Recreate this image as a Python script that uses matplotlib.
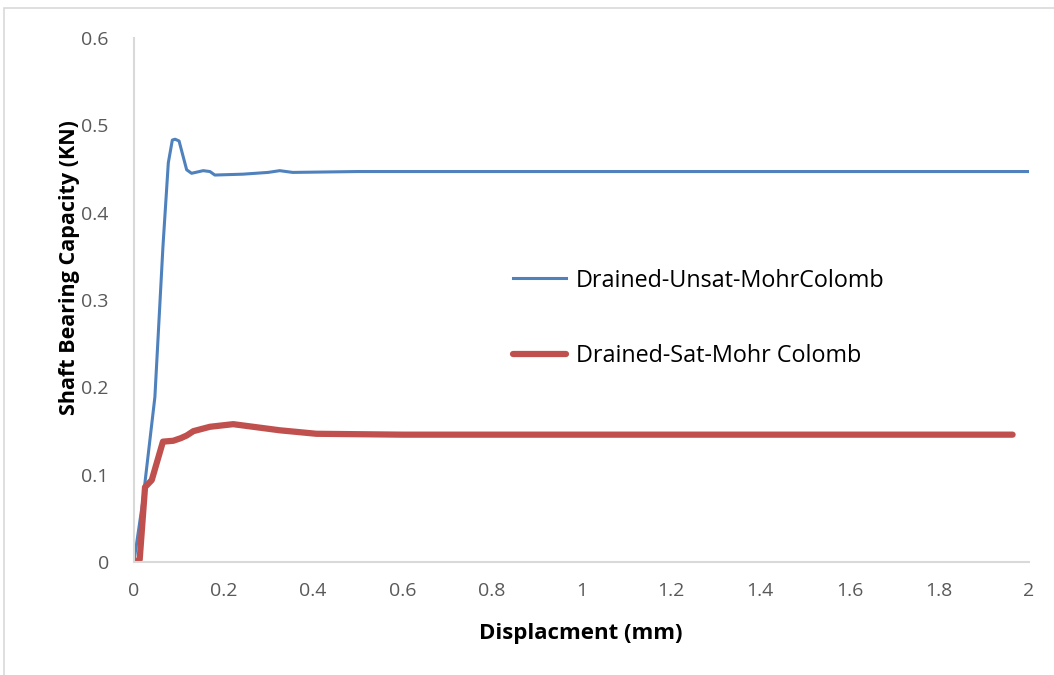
import matplotlib.pyplot as plt
from matplotlib.patches import Rectangle

plt.rcParams['font.family'] = ['Open Sans', 'DejaVu Sans']

# Drained-Unsat-MohrColomb
unsat_x = [0.0, 0.02, 0.047, 0.065, 0.077, 0.086, 0.092, 0.101, 0.118, 0.129, 0.155, 0.17,
           0.181, 0.244, 0.3, 0.326, 0.355, 0.5, 0.8, 1.0, 1.2, 1.5, 1.8, 2.0]
unsat_y = [0.0, 0.07, 0.189, 0.361, 0.457, 0.483, 0.484, 0.482, 0.449, 0.445, 0.448, 0.447,
           0.443, 0.444, 0.446, 0.448, 0.446, 0.447, 0.447, 0.447, 0.447, 0.447, 0.447, 0.447]

# Drained-Sat-Mohr Colomb
sat_x = [0.0, 0.013, 0.025, 0.04, 0.065, 0.088, 0.105, 0.118, 0.133, 0.17, 0.222, 0.326,
         0.408, 0.6, 0.8, 1.0, 1.2, 1.5, 1.8, 1.964]
sat_y = [0.0, 0.003, 0.086, 0.094, 0.138, 0.139, 0.142, 0.145, 0.150, 0.155, 0.158, 0.151,
         0.147, 0.146, 0.146, 0.146, 0.146, 0.146, 0.146, 0.146]

x_ticks = [0, 0.2, 0.4, 0.6, 0.8, 1, 1.2, 1.4, 1.6, 1.8, 2]
x_labels = ['0', '0.2', '0.4', '0.6', '0.8', '1', '1.2', '1.4', '1.6', '1.8', '2']
y_ticks = [0, 0.1, 0.2, 0.3, 0.4, 0.5, 0.6]
y_labels = ['0', '0.1', '0.2', '0.3', '0.4', '0.5', '0.6']

fig = plt.figure(figsize=(10.54, 6.75), dpi=100)
ax = fig.add_axes([0.127, 0.167, 0.849, 0.777])

ax.plot(unsat_x, unsat_y, color='#4f81bd', linewidth=2.2, label='Drained-Unsat-MohrColomb')
ax.plot(sat_x, sat_y, color='#c0504d', linewidth=4.5, label='Drained-Sat-Mohr Colomb',
        solid_capstyle='round')

ax.set_xlim(0, 2)
ax.set_ylim(0, 0.6)
ax.set_xticks(x_ticks)
ax.set_xticklabels(x_labels)
ax.set_yticks(y_ticks)
ax.set_yticklabels(y_labels)

for s in ['top', 'right']:
    ax.spines[s].set_visible(False)
for s in ['left', 'bottom']:
    ax.spines[s].set_color('#d9d9d9')
    ax.spines[s].set_linewidth(1.5)
ax.tick_params(length=0, labelsize=14, colors='#595959', pad=14)
ax.tick_params(axis='y', pad=18)

# axis titles placed in figure pixels, sized to the reference lengths
W, H = 1054, 675
xlab = fig.text(581 / W, 1 - 633 / H, 'Displacment (mm)', fontweight='bold',
                fontsize=15.5, ha='center', va='center')
ylab = fig.text(70 / W, 1 - 268 / H, 'Shaft Bearing Capacity (KN)', fontweight='bold',
                fontsize=14, rotation=90, ha='center', va='center')
renderer = fig.canvas.get_renderer()
for t, target, horiz in [(xlab, 203, True), (ylab, 297, False)]:
    bb = t.get_window_extent(renderer)
    size = bb.width if horiz else bb.height
    t.set_fontsize(t.get_fontsize() * target / size)

ax.legend(loc='upper left', bbox_to_anchor=(0.40, 0.60), frameon=False, fontsize=16.8,
          handlelength=2.3, labelspacing=2.2, handletextpad=0.4)

fig.patches.append(Rectangle((0.004, -0.01), 1.0, 0.998, transform=fig.transFigure,
                             fill=False, edgecolor='#d9d9d9', linewidth=1.2))

fig.savefig('out.png', dpi=100)
